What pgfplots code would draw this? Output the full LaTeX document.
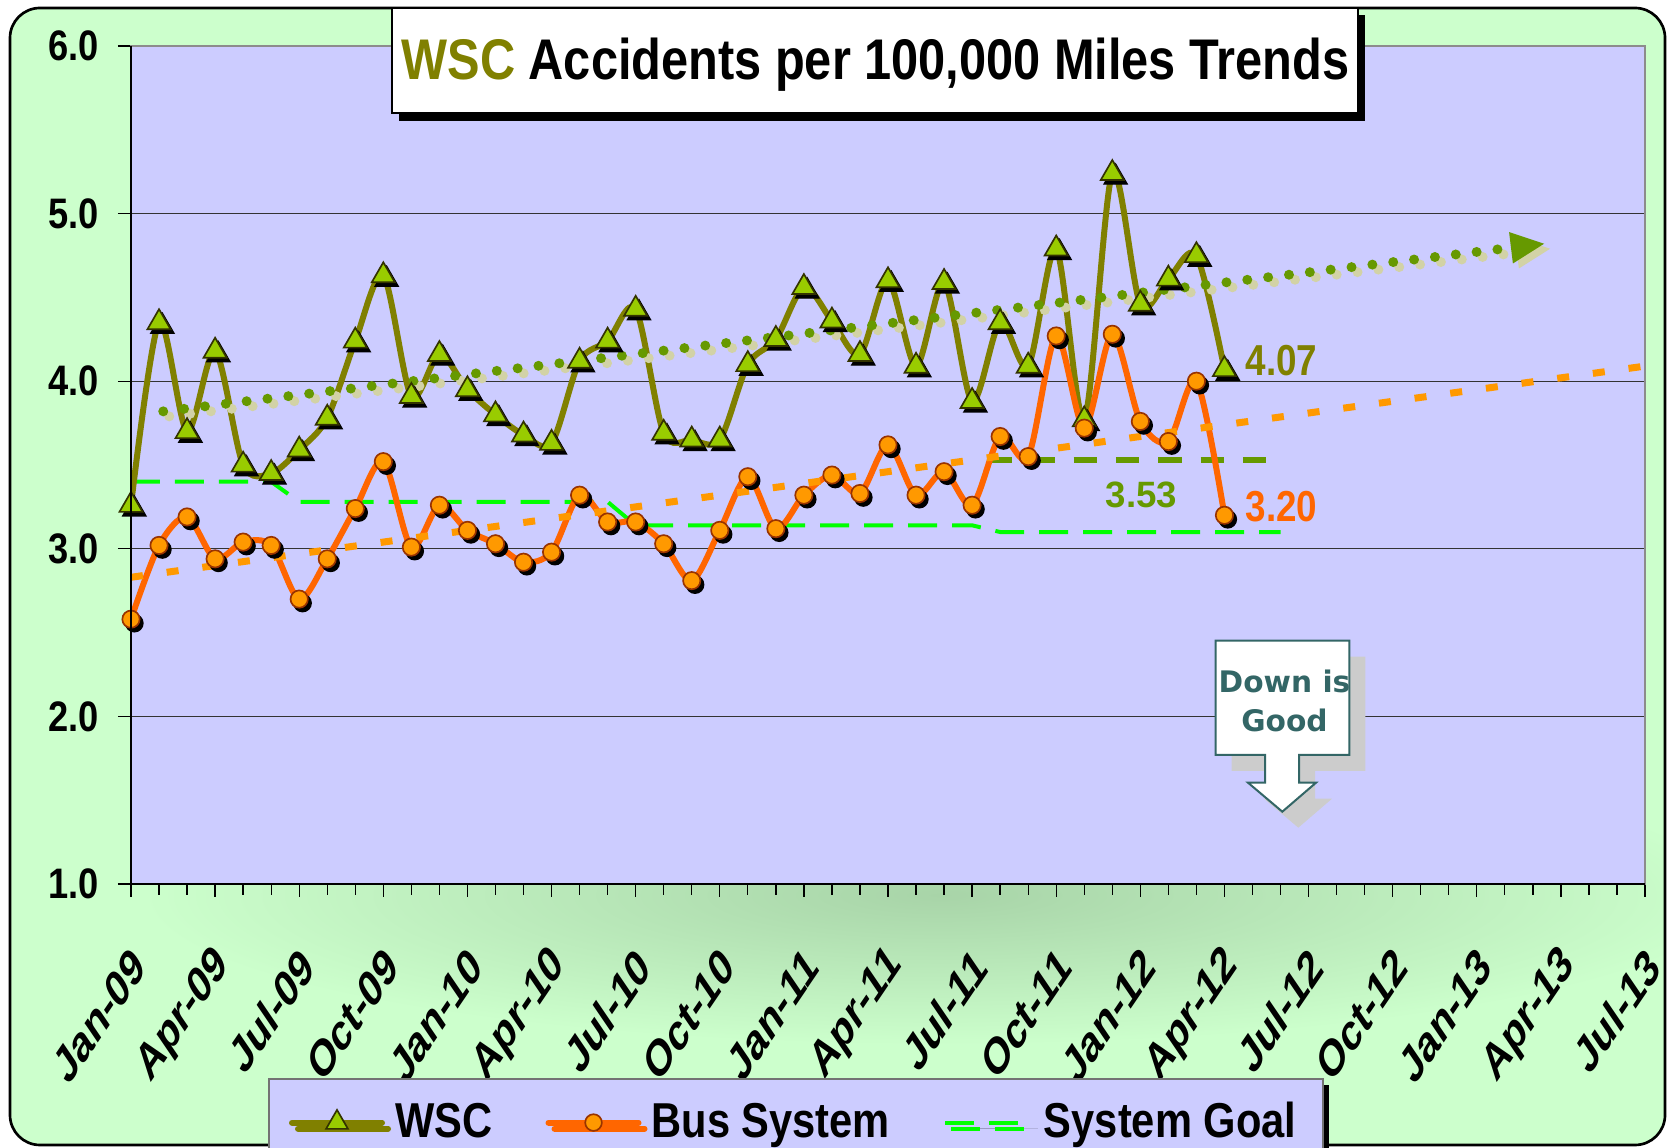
\documentclass[border=0pt]{standalone}
\usepackage{fontspec}
\setmainfont{Liberation Sans}
\newfontfamily\narrowfont[FakeStretch=0.85]{Liberation Sans}
\newfontfamily\callfont{DejaVu Sans}
\usepackage{pgfplots}
\usepackage{pgfplotstable}
\pgfplotsset{compat=1.18}
\usetikzlibrary{arrows.meta,shadows}

\definecolor{bggreen}{HTML}{CCFFCC}
\definecolor{glow}{HTML}{A8D4A8}
\definecolor{plotbg}{HTML}{CCCCFF}
\definecolor{wscline}{HTML}{808000}
\definecolor{wscfill}{HTML}{99CC00}
\definecolor{wscedge}{HTML}{333300}
\definecolor{busline}{HTML}{FF6600}
\definecolor{busfill}{HTML}{FF9900}
\definecolor{busedge}{HTML}{993300}
\definecolor{goalgreen}{HTML}{00FF00}
\definecolor{trendgreen}{HTML}{669900}
\definecolor{trendshadow}{HTML}{D2D2A6}
\definecolor{trendorange}{HTML}{FF9900}
\definecolor{callteal}{HTML}{336666}

\pgfplotsset{
  long legend/.style={legend image code/.code={%
    \draw[##1, mark repeat=2, mark phase=2] plot coordinates {(0pt,0pt) (13.5pt,0pt) (27pt,0pt)};}},
  dash legend/.style={legend image code/.code={%
    \draw[##1] (0pt,0pt) -- (21pt,0pt);
    \path (0pt,0pt) -- (26pt,0pt);}},
}

% month index (0 = Jan-09) and accidents per 100,000 miles
\pgfplotstableread{
m  v
0  3.26
1  4.35
2  3.70
3  4.18
4  3.50
5  3.45
6  3.59
7  3.78
8  4.24
9  4.63
10 3.91
11 4.16
12 3.95
13 3.80
14 3.68
15 3.63
16 4.12
17 4.24
18 4.43
19 3.69
20 3.65
21 3.65
22 4.10
23 4.25
24 4.56
25 4.36
26 4.16
27 4.60
28 4.09
29 4.59
30 3.88
31 4.35
32 4.09
33 4.79
34 3.77
35 5.24
36 4.46
37 4.61
38 4.75
39 4.07
}\wsc

\pgfplotstableread{
m  v
0  2.58
1  3.02
2  3.19
3  2.94
4  3.04
5  3.02
6  2.70
7  2.94
8  3.24
9  3.52
10 3.01
11 3.26
12 3.11
13 3.03
14 2.92
15 2.98
16 3.32
17 3.16
18 3.16
19 3.03
20 2.81
21 3.11
22 3.43
23 3.12
24 3.32
25 3.44
26 3.33
27 3.62
28 3.32
29 3.46
30 3.26
31 3.67
32 3.55
33 4.27
34 3.72
35 4.28
36 3.76
37 3.64
38 4.00
39 3.20
}\bus

\begin{document}
\begin{tikzpicture}
\useasboundingbox (0,0) rectangle (501pt,344.4pt);

% background panel (pixel coordinates, origin top left)
\begin{scope}[shift={(0pt,344.4pt)}, x=0.3pt, y=-0.3pt]
  \fill[bggreen, rounded corners=9pt] (10,8) rectangle (1665,1145);
  \begin{scope}
    \clip[rounded corners=9pt] (10,8) rectangle (1665,1145);
    \shade[inner color=glow, outer color=bggreen] (940,895) ellipse (800 and 150);
  \end{scope}
  \draw[black, line width=0.8pt, rounded corners=9pt] (10,8) rectangle (1665,1145);
\end{scope}

\begin{axis}[
  at={(39.3pt,79.2pt)}, anchor=south west,
  scale only axis, width=454.2pt, height=251.4pt,
  xmin=0, xmax=54, ymin=1, ymax=6,
  axis background/.style={fill=plotbg},
  axis line style={draw=black!45, line width=0.6pt},
  xtick={0,3,...,54},
  xticklabels={Jan-09,Apr-09,Jul-09,Oct-09,Jan-10,Apr-10,Jul-10,Oct-10,Jan-11,Apr-11,Jul-11,Oct-11,Jan-12,Apr-12,Jul-12,Oct-12,Jan-13,Apr-13,Jul-13},
  minor x tick num=2,
  ytick={1,2,3,4,5,6},
  xtick pos=bottom, ytick pos=left,
  ymajorgrids,
  major grid style={draw=black!80, line width=0.35pt},
  tick align=outside, major tick length=3.9pt, minor tick length=3.3pt,
  tick style={black, line width=0.4pt},
  yticklabel shift=2.5pt,
  yticklabel style={font=\narrowfont\bfseries\fontsize{12.8}{13}\selectfont, anchor=east, inner sep=0pt, xshift=-3pt},
  xticklabel style={font=\bfseries\fontsize{10.6}{11}\selectfont, inner sep=0pt, xshift=2.6pt, yshift=-18pt, yscale=1.47, rotate=45, anchor=east},
  /pgf/number format/fixed, /pgf/number format/fixed zerofill,
  /pgf/number format/precision=1, /pgf/number format/assume math mode=true,
  legend columns=3,
  legend cell align=left,
  legend style={at={(0.0905,-0.2315)}, anchor=north west, fill=plotbg,
    draw=black!55, line width=0.6pt,
    font=\narrowfont\bfseries\fontsize{14.7}{15}\selectfont,
    inner xsep=6pt, inner ysep=5pt,
    general shadow={fill=black, shadow xshift=1.8pt, shadow yshift=-1.8pt},
    /tikz/every even column/.append style={column sep=14pt},
    /tikz/every odd column/.append style={column sep=1pt}},
]
\addlegendimage{wscline, line width=1.8pt, line cap=round, mark=triangle*, mark size=3.8pt,
  mark options={fill=wscfill, draw=wscedge, line width=0.5pt}, long legend}
\addlegendentry{WSC}
\addlegendimage{busline, line width=1.8pt, line cap=round, mark=*, mark size=2.5pt,
  mark options={fill=busfill, draw=busedge, line width=0.5pt}, long legend}
\addlegendentry{Bus System}
\addlegendimage{goalgreen, line width=1.2pt, dash pattern=on 8.7pt off 4.5pt, dash legend}
\addlegendentry{System Goal}

% dark green reference level
\addplot[trendgreen, line width=1.6pt, dash pattern=on 7pt off 5.7pt, forget plot]
  coordinates {(30.6,3.53) (40.5,3.53)};

% system goal
\addplot[goalgreen, line width=1.2pt, dash pattern=on 8.7pt off 4.5pt, forget plot]
  coordinates {(0,3.40) (5,3.40) (6,3.28) (17,3.28) (18,3.14) (30,3.14) (31,3.10) (41,3.10)};

% WSC
\addplot[only marks, mark=triangle*, mark size=4pt, black,
  mark options={xshift=1pt, yshift=-1.2pt}, forget plot] table[x=m, y=v] {\wsc};
\addplot[wscline, line width=1.8pt, smooth, tension=0.5, mark=triangle*, mark size=4pt,
  mark options={fill=wscfill, draw=wscedge, line width=0.5pt, solid}, forget plot]
  table[x=m, y=v] {\wsc};

% Bus System
\addplot[only marks, mark=*, mark size=2.6pt, black,
  mark options={xshift=1pt, yshift=-1.2pt}, forget plot] table[x=m, y=v] {\bus};
\addplot[busline, line width=1.8pt, smooth, tension=0.5, mark=*, mark size=2.6pt,
  mark options={fill=busfill, draw=busedge, line width=0.5pt, solid}, forget plot]
  table[x=m, y=v] {\bus};

% trend lines
\addplot[trendorange, line width=2.1pt, dash pattern=on 3.6pt off 7.2pt, forget plot]
  coordinates {(0,2.83) (54,4.09)};
\addplot[trendshadow, line width=3pt, line cap=round, dash pattern=on 0pt off 6.3pt,
  xshift=1.8pt, yshift=-1.5pt,
  -{Triangle[length=10pt, width=9.5pt, line width=0pt]}, forget plot]
  coordinates {(1.15,3.82) (50.4,4.82)};
\addplot[trendgreen, line width=3pt, line cap=round, dash pattern=on 0pt off 6.3pt,
  -{Triangle[length=10pt, width=9.5pt, line width=0pt]}, forget plot]
  coordinates {(1.15,3.82) (50.4,4.82)};
\end{axis}

\begin{scope}[shift={(0pt,344.4pt)}, x=0.3pt, y=-0.3pt]
  % axis lines on left and bottom
  \draw[black, line width=0.6pt] (131,46) -- (131,884) -- (1645,884);

  % value labels
  \node[anchor=base west, inner sep=0pt, text=wscline,
    font=\narrowfont\bfseries\fontsize{13}{13}\selectfont] at (1245,376) {4.07};
  \node[anchor=base west, inner sep=0pt, text=busline,
    font=\narrowfont\bfseries\fontsize{13}{13}\selectfont] at (1245,521.7) {3.20};
  \node[anchor=base west, inner sep=0pt, text=trendgreen,
    font=\bfseries\fontsize{11}{11}\selectfont] at (1105,508) {3.53};

  % title
  \fill[black] (399,15) rectangle (1365,121);
  \draw[black, line width=0.5pt, fill=white] (392,8) rectangle (1358,113);
  \node[anchor=base, inner sep=0pt,
    font=\narrowfont\bfseries\fontsize{17.2}{18}\selectfont] at (875.5,80)
    {\textcolor{wscline}{WSC} Accidents per 100,000 Miles Trends};

  % "Down is Good" callout
  \fill[black!20, shift={(16,16)}]
    (1215.7,640.7) -- (1349.3,640.7) -- (1349.3,755) -- (1299,755) -- (1299,782.7)
    -- (1316,782.7) -- (1282.3,811.7) -- (1248,782.7) -- (1265,782.7) -- (1265,755)
    -- (1215.7,755) -- cycle;
  \draw[callteal, line width=0.6pt, fill=white]
    (1215.7,640.7) -- (1349.3,640.7) -- (1349.3,755) -- (1299,755) -- (1299,782.7)
    -- (1316,782.7) -- (1282.3,811.7) -- (1248,782.7) -- (1265,782.7) -- (1265,755)
    -- (1215.7,755) -- cycle;
  \node[anchor=base, inner sep=0pt, text=callteal,
    font=\callfont\bfseries\fontsize{8.9}{9}\selectfont] at (1284.5,693) {Down is};
  \node[anchor=base, inner sep=0pt, text=callteal,
    font=\callfont\bfseries\fontsize{8.9}{9}\selectfont] at (1284.5,731.7) {Good};
\end{scope}
\end{tikzpicture}
\end{document}
